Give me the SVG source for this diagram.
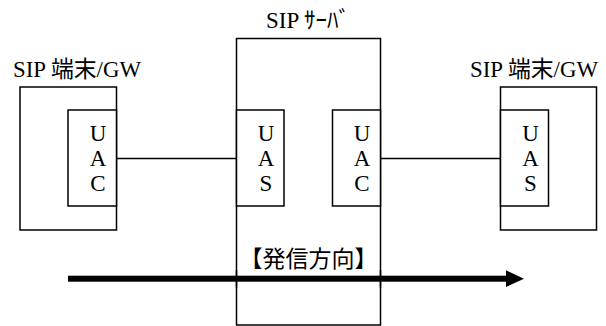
<svg xmlns="http://www.w3.org/2000/svg" width="606" height="326" viewBox="0 0 606 326">
<style>
.box{fill:#fff;stroke:#000;stroke-width:1.5}
.ln{stroke:#000;stroke-width:1.5;fill:none}
text{font-family:"Liberation Serif","Noto Sans CJK JP",serif;font-size:23px;fill:#000}
.c{text-anchor:middle}
</style>
<rect width="606" height="326" fill="#fff"/>
<g id="server">
<rect class="box" x="236.5" y="38.5" width="144" height="286.5"/>
<text x="266" y="28" textLength="84" lengthAdjust="spacingAndGlyphs">SIP ｻｰﾊﾞ</text>
</g>
<g id="left-terminal">
<rect class="box" x="20" y="87" width="96.5" height="143"/>
<text x="13" y="77" textLength="128" lengthAdjust="spacingAndGlyphs">SIP 端末/GW</text>
</g>
<g id="right-terminal">
<rect class="box" x="500.5" y="87" width="96" height="143"/>
<text x="470" y="77" textLength="128" lengthAdjust="spacingAndGlyphs">SIP 端末/GW</text>
</g>
<g id="left-uac">
<rect class="box" x="68" y="110" width="48.5" height="96"/>
<text class="c" x="98" y="141">U</text><text class="c" x="98" y="166">A</text><text class="c" x="98" y="191">C</text>
</g>
<g id="server-uas">
<rect class="box" x="236.5" y="110" width="47.5" height="96"/>
<text class="c" x="266" y="141">U</text><text class="c" x="266" y="166">A</text><text class="c" x="266" y="191">S</text>
</g>
<g id="server-uac">
<rect class="box" x="332.5" y="110" width="48" height="96"/>
<text class="c" x="362" y="141">U</text><text class="c" x="362" y="166">A</text><text class="c" x="362" y="191">C</text>
</g>
<g id="right-uas">
<rect class="box" x="500.5" y="110" width="48" height="96"/>
<text class="c" x="530.5" y="141">U</text><text class="c" x="530.5" y="166">A</text><text class="c" x="530.5" y="191">S</text>
</g>
<g id="connectors">
<line class="ln" x1="116.5" y1="158.5" x2="236.5" y2="158.5"/>
<line class="ln" x1="380.5" y1="158.5" x2="500.5" y2="158.5"/>
<rect x="68" y="275.7" width="439" height="6" fill="#000"/>
<polygon points="506,270.3 524,278.7 506,287" fill="#000"/>
<line class="ln" x1="236.5" y1="270" x2="236.5" y2="288"/>
<line class="ln" x1="380.5" y1="270" x2="380.5" y2="288"/>
</g>
<g id="direction-label">
<text class="c" x="308.6" y="267">【発信方向】</text>
</g>
</svg>
